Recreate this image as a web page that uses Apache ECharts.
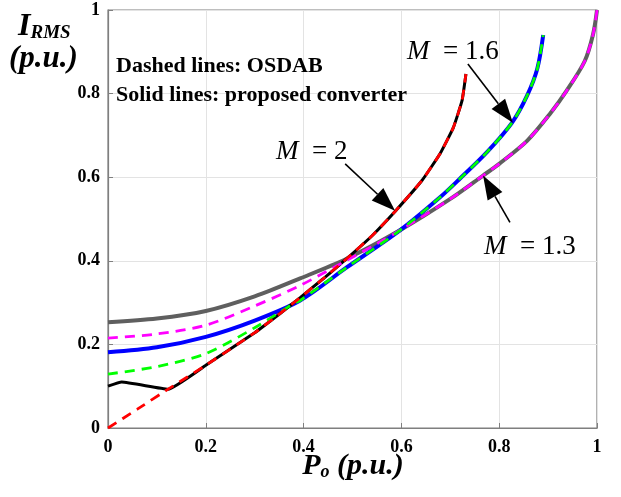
<!DOCTYPE html>
<html>
<head>
<meta charset="utf-8">
<script src="https://cdn.jsdelivr.net/npm/echarts@6/dist/echarts.min.js"></script>
<style>html,body{margin:0;padding:0;background:#fff}#c{width:621px;height:497px}</style>
</head>
<body>
<div id="c"></div>
<script>
// ---- data ----
const xTickLabels = ['0', '0.2', '0.4', '0.6', '0.8', '1'];
const yTickLabels = ['0', '0.2', '0.4', '0.6', '0.8', '1'];

// M = 2
const m2Proposed = [[0,0.100],[0.028,0.110],[0.123,0.093],[0.2,0.150],[0.3,0.228],[0.352,0.274],[0.393,0.312],[0.44,0.357],[0.488,0.405],[0.54,0.460],[0.587,0.518],[0.642,0.592],[0.679,0.656],[0.706,0.718],[0.724,0.783],[0.732,0.847]];
const m2Osdab = [[0,0],[0.06,0.045],[0.123,0.093],[0.2,0.150],[0.3,0.228],[0.352,0.274],[0.393,0.312],[0.44,0.357],[0.488,0.405],[0.54,0.460],[0.587,0.518],[0.642,0.592],[0.679,0.656],[0.706,0.718],[0.724,0.783],[0.732,0.847]];
// M = 1.6
const m16Proposed = [[0,0.181],[0.1,0.193],[0.2,0.218],[0.3,0.257],[0.393,0.305],[0.488,0.384],[0.597,0.473],[0.679,0.552],[0.72,0.597],[0.775,0.660],[0.826,0.730],[0.857,0.795],[0.878,0.860],[0.89,0.940]];
const m16Osdab = [[0,0.129],[0.1,0.147],[0.2,0.178],[0.3,0.240],[0.38,0.298],[0.393,0.305],[0.488,0.384],[0.597,0.473],[0.679,0.552],[0.72,0.597],[0.775,0.660],[0.826,0.730],[0.857,0.795],[0.878,0.860],[0.89,0.940]];
// M = 1.3
const m13Proposed = [[0,0.253],[0.1,0.262],[0.2,0.280],[0.3,0.315],[0.393,0.358],[0.488,0.405],[0.597,0.473],[0.7,0.548],[0.767,0.604],[0.8,0.632],[0.857,0.687],[0.904,0.752],[0.938,0.807],[0.975,0.878],[0.992,0.942],[1,1]];
const m13Osdab = [[0,0.215],[0.1,0.225],[0.2,0.246],[0.3,0.292],[0.393,0.341],[0.488,0.401],[0.55,0.441],[0.597,0.473],[0.7,0.548],[0.767,0.604],[0.8,0.632],[0.857,0.687],[0.904,0.752],[0.938,0.807],[0.975,0.878],[0.992,0.942],[1,1]];

// annotation arrows (data coords: from -> tip)
const arrowFrom = [[0.736,0.871],[0.485,0.632],[0.822,0.492]];
const arrowTip  = [[0.828,0.730],[0.587,0.520],[0.767,0.604]];

const SERIF = '"Liberation Serif","Times New Roman",serif';

function solid(name, data, color, width, sm) {
  return { name, type:'line', data, showSymbol:false, smooth:sm,
    lineStyle:{ color, width, type:'solid' }, z:2, silent:true };
}
function dashed(name, data, color, sm) {
  return { name, type:'line', data, showSymbol:false, smooth:sm,
    lineStyle:{ color, width:2.8, type:[10,7] }, z:3, silent:true };
}

const chart = echarts.init(document.getElementById('c'), null, {renderer:'canvas'});
const axisLabelStyle = { fontFamily:SERIF, fontWeight:'bold', fontSize:18, color:'#000' };
chart.setOption({
  animation:false,
  backgroundColor:'#fff',
  grid:{ left:108, right:24, top:10, bottom:69, show:true, borderColor:'#7f7f7f', borderWidth:1.2 },
  xAxis:{ type:'value', min:0, max:1, interval:0.2,
    axisLine:{ show:true, lineStyle:{ color:'#7f7f7f', width:1.2 } },
    axisTick:{ show:true, inside:true, length:5, lineStyle:{ color:'#7f7f7f' } },
    splitLine:{ show:true, lineStyle:{ color:'#e3e3e3', width:1 } },
    axisLabel:{ ...axisLabelStyle, margin:10, formatter:(v)=>xTickLabels[Math.round(v*5)] } },
  yAxis:{ type:'value', min:0, max:1, interval:0.2,
    axisLine:{ show:true, lineStyle:{ color:'#7f7f7f', width:1.2 } },
    axisTick:{ show:true, inside:true, length:5, lineStyle:{ color:'#7f7f7f' } },
    splitLine:{ show:true, lineStyle:{ color:'#e3e3e3', width:1 } },
    axisLabel:{ ...axisLabelStyle, margin:8, formatter:(v)=>yTickLabels[Math.round(v*5)] } },
  series:[
    solid('M=1.3 proposed', m13Proposed, '#5f5f5f', 4, 0.3),
    solid('M=1.6 proposed', m16Proposed, '#0000ff', 4, 0.3),
    solid('M=2 proposed', m2Proposed, '#000000', 3, 0.12),
    dashed('M=1.3 OSDAB', m13Osdab, '#ff00ff', 0.3),
    dashed('M=1.6 OSDAB', m16Osdab, '#00ff00', 0.3),
    dashed('M=2 OSDAB', m2Osdab, '#ff0000', 0.12)
  ]
});

// annotations
const g = [];
function t(x, y, text, rich, align) {
  g.push({ type:'text', z:20, style:{ x, y, text, rich, align: align||'left', verticalAlign:'middle' } });
}
const mRich = (fs)=>({ i:{ fontFamily:SERIF, fontStyle:'italic', fontSize:fs, color:'#000' },
                        r:{ fontFamily:SERIF, fontSize:fs, color:'#000' } });
t(407, 52, '{i|M}{r|  = 1.6}', mRich(27));
t(276, 152, '{i|M}{r|  = 2}', mRich(27));
t(484, 247, '{i|M}{r|  = 1.3}', mRich(27));
const noteRich = { b:{ fontFamily:SERIF, fontWeight:'bold', fontSize:22, color:'#000' } };
t(116, 66, '{b|Dashed lines: OSDAB}', noteRich);
t(116, 95, '{b|Solid lines: proposed converter}', noteRich);
// y title
t(18, 27, '{I|I}{s|RMS}', {
  I:{ fontFamily:SERIF, fontStyle:'italic', fontWeight:'bold', fontSize:32, color:'#000', verticalAlign:'bottom' },
  s:{ fontFamily:SERIF, fontStyle:'italic', fontWeight:'bold', fontSize:19, color:'#000', verticalAlign:'bottom' } });
t(9, 59, '{p|(p.u.)}', { p:{ fontFamily:SERIF, fontStyle:'italic', fontWeight:'bold', fontSize:31, color:'#000' } });
// x title
t(353, 466, '{P|P}{o|o}{r| (p.u.)}', {
  P:{ fontFamily:SERIF, fontStyle:'italic', fontWeight:'bold', fontSize:30, color:'#000', verticalAlign:'bottom' },
  o:{ fontFamily:SERIF, fontStyle:'italic', fontWeight:'bold', fontSize:18, color:'#000', verticalAlign:'bottom' },
  r:{ fontFamily:SERIF, fontStyle:'italic', fontWeight:'bold', fontSize:30, color:'#000', verticalAlign:'bottom' } }, 'center');

for (let k = 0; k < arrowFrom.length; k++) {
  const a = chart.convertToPixel({gridIndex:0}, arrowFrom[k]);
  const b = chart.convertToPixel({gridIndex:0}, arrowTip[k]);
  const dx = b[0]-a[0], dy = b[1]-a[1], L = Math.hypot(dx, dy);
  const ux = dx/L, uy = dy/L, hl = 24, hw = 8.5;
  const bx = b[0]-ux*hl, by = b[1]-uy*hl;
  g.push({ type:'line', z:21, shape:{ x1:a[0], y1:a[1], x2:bx, y2:by }, style:{ stroke:'#000', lineWidth:1.6 } });
  g.push({ type:'polygon', z:21, shape:{ points:[[b[0],b[1]],[bx-uy*hw, by+ux*hw],[bx+uy*hw, by-ux*hw]] }, style:{ fill:'#000' } });
}
chart.setOption({ graphic: g });
</script>
</body>
</html>
